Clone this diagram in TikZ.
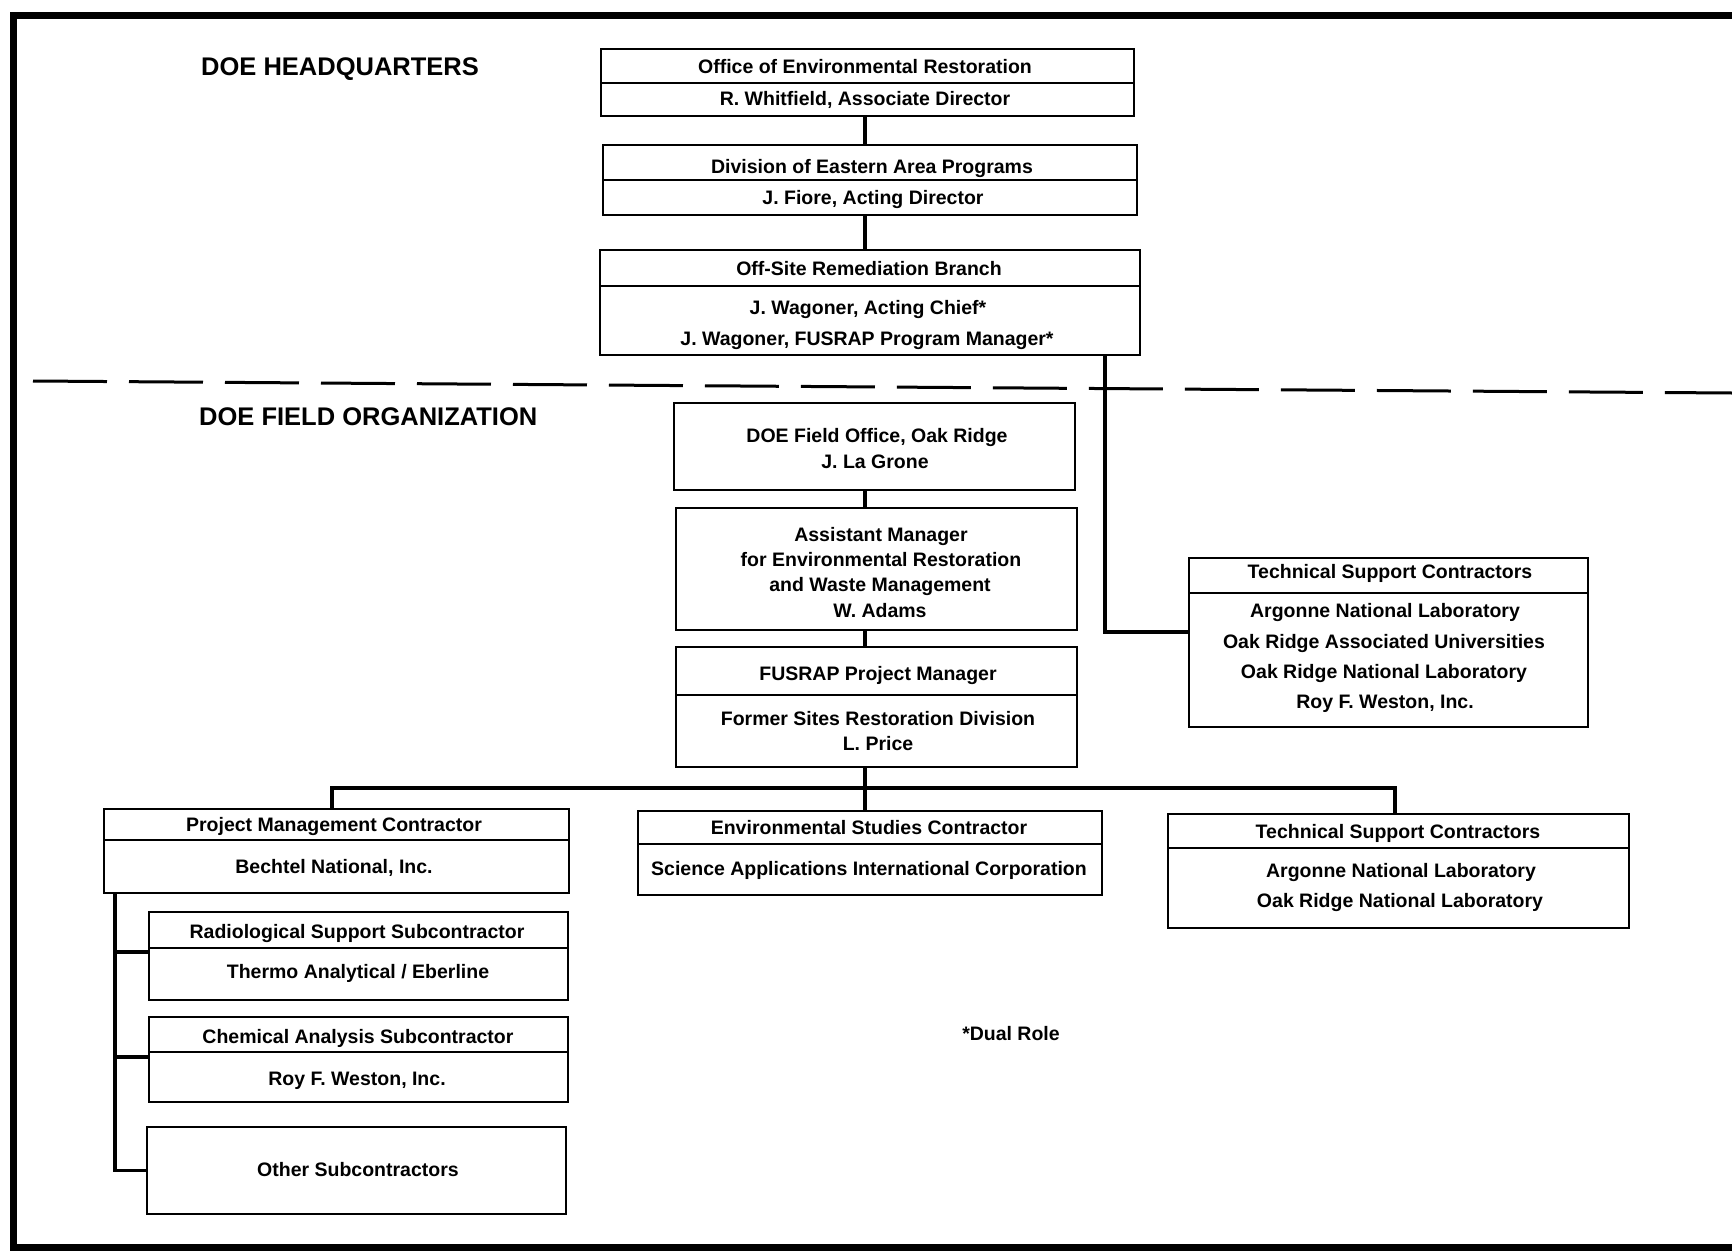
\documentclass[tikz,border=0pt]{standalone}
\usepackage{fontspec}
\setmainfont{Liberation Sans}
\begin{document}
\begin{tikzpicture}[x=1pt,y=-1pt,
  box/.style={draw, line width=2.4pt, inner sep=0pt, outer sep=0pt},
  div/.style={line width=2.2pt},
  conn/.style={line width=3.8pt, line join=miter},
  frame/.style={line width=7pt, line join=miter},
  tl/.style={font=\fontsize{19.5}{24}\selectfont\bfseries, inner sep=0pt, text height=14pt, text depth=0pt},
  hd/.style={font=\fontsize{25.5}{30}\selectfont\bfseries, inner sep=0pt, anchor=west, text height=18pt, text depth=0pt},
  sep/.style={line width=3pt, dash pattern=on 74pt off 22pt}
]
\useasboundingbox (0,0) rectangle (1732,1255);
% frame
\draw[frame] (1740,16) -- (13,16) -- (13,1247) -- (1740,1247);
% section separator
\draw[sep] (33,381) -- (1732,393);
% headings
\node[hd] (hq) at (201,66) {DOE HEADQUARTERS};
\node[hd] (fo) at (199,416) {DOE FIELD ORGANIZATION};

% boxes
\node[box, minimum width=533pt, minimum height=67pt] (B1) at (867.5,82.5) {};
\node[box, minimum width=534pt, minimum height=70pt] (B2) at (870,180) {};
\node[box, minimum width=540pt, minimum height=105pt] (B3) at (870,302.5) {};
\node[box, minimum width=401pt, minimum height=87pt] (B4) at (874.5,446.5) {};
\node[box, minimum width=401pt, minimum height=122pt] (B5) at (876.5,569) {};
\node[box, minimum width=401pt, minimum height=120pt] (B6) at (876.5,707) {};
\node[box, minimum width=399pt, minimum height=169pt] (T1) at (1388.5,642.5) {};
\node[box, minimum width=465pt, minimum height=84pt] (PMC) at (336.5,851) {};
\node[box, minimum width=464pt, minimum height=84pt] (ESC) at (870,853) {};
\node[box, minimum width=461pt, minimum height=114pt] (T2) at (1398.5,871) {};
\node[box, minimum width=419pt, minimum height=88pt] (RAD) at (358.5,956) {};
\node[box, minimum width=419pt, minimum height=85pt] (CHEM) at (358.5,1059.5) {};
\node[box, minimum width=419pt, minimum height=87pt] (OTH) at (356.5,1170.5) {};

% dividers
\draw[div] (B1.west |- 0,83) -- (B1.east |- 0,83);
\draw[div] (B2.west |- 0,180) -- (B2.east |- 0,180);
\draw[div] (B3.west |- 0,286) -- (B3.east |- 0,286);
\draw[div] (B6.west |- 0,695) -- (B6.east |- 0,695);
\draw[div] (T1.west |- 0,593) -- (T1.east |- 0,593);
\draw[div] (PMC.west |- 0,840) -- (PMC.east |- 0,840);
\draw[div] (ESC.west |- 0,844) -- (ESC.east |- 0,844);
\draw[div] (T2.west |- 0,848) -- (T2.east |- 0,848);
\draw[div] (RAD.west |- 0,948) -- (RAD.east |- 0,948);
\draw[div] (CHEM.west |- 0,1052) -- (CHEM.east |- 0,1052);

% texts
\node[tl] (t1a) at (865,67) {Office of Environmental Restoration};
\node[tl] (t1b) at (865,98) {R. Whitfield, Associate Director};
\node[tl] (t2a) at (872,166) {Division of Eastern Area Programs};
\node[tl] (t2b) at (873,197) {J. Fiore, Acting Director};
\node[tl] (t3a) at (869,268) {Off-Site Remediation Branch};
\node[tl] (t3b) at (868,307) {J. Wagoner, Acting Chief*};
\node[tl] (t3c) at (867,338) {J. Wagoner, FUSRAP Program Manager*};
\node[tl] (t4a) at (877,435) {DOE Field Office, Oak Ridge};
\node[tl] (t4b) at (875,461) {J. La Grone};
\node[tl] (t5a) at (881,534) {Assistant Manager};
\node[tl] (t5b) at (881,559) {for Environmental Restoration};
\node[tl] (t5c) at (880,584) {and Waste Management};
\node[tl] (t5d) at (880,610) {W. Adams};
\node[tl] (t6a) at (878,673) {FUSRAP Project Manager};
\node[tl] (t6b) at (878,718) {Former Sites Restoration Division};
\node[tl] (t6c) at (878,743) {L. Price};
\node[tl] (u1a) at (1390,571) {Technical Support Contractors};
\node[tl] (u1b) at (1385,610) {Argonne National Laboratory};
\node[tl] (u1c) at (1384,641) {Oak Ridge Associated Universities};
\node[tl] (u1d) at (1384,671) {Oak Ridge National Laboratory};
\node[tl] (u1e) at (1385,701) {Roy F. Weston, Inc.};
\node[tl] (pa) at (334,824) {Project Management Contractor};
\node[tl] (pb) at (334,866) {Bechtel National, Inc.};
\node[tl] (ea) at (869,827) {Environmental Studies Contractor};
\node[tl] (eb) at (869,868) {Science Applications International Corporation};
\node[tl] (u2a) at (1398,831) {Technical Support Contractors};
\node[tl] (u2b) at (1401,870) {Argonne National Laboratory};
\node[tl] (u2c) at (1400,900) {Oak Ridge National Laboratory};
\node[tl] (ra) at (357,931) {Radiological Support Subcontractor};
\node[tl] (rb) at (358,971) {Thermo Analytical / Eberline};
\node[tl] (ca) at (358,1036) {Chemical Analysis Subcontractor};
\node[tl] (cb) at (357,1078) {Roy F. Weston, Inc.};
\node[tl] (oa) at (358,1169) {Other Subcontractors};
\node[tl] (dual) at (1011,1033) {*Dual Role};

% connectors
\coordinate (spine) at (865,0);
\coordinate (side) at (1105,632);
\coordinate (busL) at (332,788);
\coordinate (busR) at (1395,788);
\coordinate (lsp) at (115,0);
\draw[conn] (B1.south -| spine) -- (B2.north -| spine);
\draw[conn] (B2.south -| spine) -- (B3.north -| spine);
\draw[conn] (B3.south -| side) |- (T1.west |- side);
\draw[conn] (B4.south -| spine) -- (B5.north -| spine);
\draw[conn] (B5.south -| spine) -- (B6.north -| spine);
\draw[conn] (B6.south -| spine) -- (ESC.north -| spine);
\draw[conn] (PMC.north -| busL) |- (busR) -- (T2.north -| busR);
\draw[conn] (PMC.south -| lsp) |- (OTH.west);
\draw[conn] (lsp |- 0,952) -- (RAD.west |- 0,952);
\draw[conn] (lsp |- 0,1057) -- (CHEM.west |- 0,1057);
\end{tikzpicture}
\end{document}
